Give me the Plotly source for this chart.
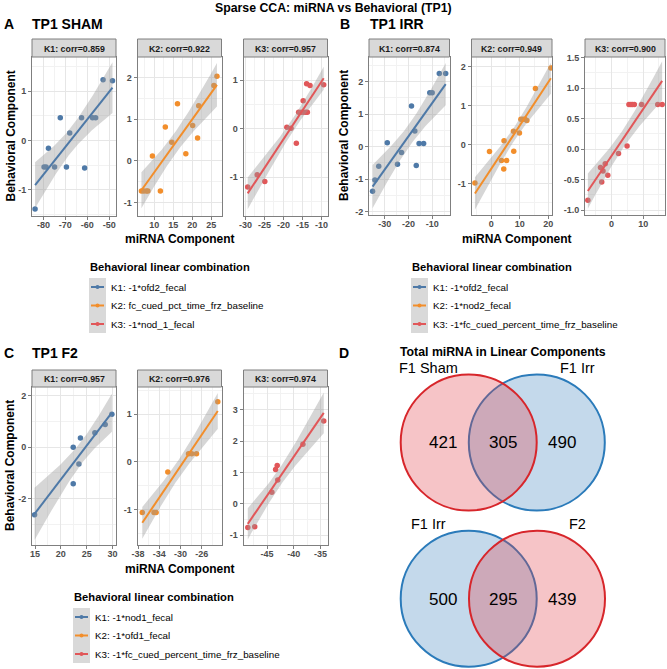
import math
import numpy as np
import plotly.graph_objects as go

# ---------------- data ----------------
sham_k1_x = [-83.8, -77.7, -79.7, -78.8, -74.9, -72.3, -69.5, -68.0, -62.6, -61.2, -57.6, -56.2, -52.8, -48.5]
sham_k1_y = [-1.39, -0.16, -0.54, -0.54, -0.54, 0.46, -0.54, 0.15, 0.46, -0.56, 0.46, 0.46, 1.23, 1.21]
sham_k2_x = [6.6, 7.2, 7.9, 8.3, 11.6, 9.5, 12.9, 14.6, 16.1, 18.3, 20.1, 21.4, 21.7, 25.7, 26.5]
sham_k2_y = [-0.72, -0.72, -0.72, -0.72, -0.72, 0.12, 0.81, 0.45, 1.37, 0.17, 0.85, 0.55, 1.32, 1.81, 2.03]
sham_k3_x = [-29.4, -26.9, -24.9, -19.1, -18.0, -16.6, -16.0, -15.3, -14.7, -14.1, -13.7, -14.8, -13.9, -13.0, -9.4]
sham_k3_y = [-1.20, -0.95, -1.09, 0.03, 0.01, -0.30, 0.34, 0.34, 0.34, 0.34, 0.34, 0.58, 0.93, 0.89, 0.91]

irr_k1_x = [-35.1, -34.1, -32.5, -28.9, -24.6, -22.9, -18.7, -17.3, -16.7, -15.5, -13.6, -11.0, -10.0, -7.0, -4.3]
irr_k1_y = [-1.37, -1.02, -0.60, 0.12, -0.54, -0.18, 1.25, 0.48, -0.58, 0.10, 0.10, 1.66, 1.66, 2.25, 2.25]
irr_k2_x = [-5.7, -0.6, 3.6, 5.4, 4.5, 4.4, 7.8, 7.9, 9.9, 10.4, 11.1, 11.8, 12.5, 15.5, 20.9]
irr_k2_y = [-0.99, -0.18, -0.41, -0.41, 0.10, -0.63, 0.34, -0.17, 0.30, 0.65, 0.65, 0.65, 0.62, 1.44, 1.97]
irr_k3_x = [-7.5, -3.5, -2.7, -2.0, -3.1, -1.2, 2.2, 4.9, 5.5, 6.1, 6.6, 7.2, 9.5, 14.6, 16.0]
irr_k3_y = [-0.84, -0.30, -0.36, -0.24, -0.54, -0.43, -0.07, 0.05, 0.73, 0.73, 0.73, 0.73, 0.73, 0.73, 0.73]

f2_k1_x = [14.9, 22.4, 23.8, 23.5, 22.4, 26.6, 28.6, 29.9]
f2_k1_y = [-2.64, 0.0, 0.36, -0.66, -1.43, 0.56, 0.89, 1.29]
f2_k2_x = [-37.2, -35.0, -34.6, -32.4, -28.5, -27.9, -27.0, -23.0]
f2_k2_y = [-1.06, -1.06, -1.06, -0.21, 0.17, 0.17, 0.17, 1.26]
f2_k3_x = [-48.6, -47.3, -44.1, -43.4, -43.1, -43.0, -38.3, -34.4]
f2_k3_y = [-0.75, -0.73, 0.37, 1.09, 1.22, 0.76, 1.90, 2.64]

sham_corr = ["0.859", "0.922", "0.957"]
irr_corr = ["0.874", "0.949", "0.900"]
f2_corr = ["0.957", "0.976", "0.974"]

sham_legend = ["K1: -1*ofd2_fecal", "K2: fc_cued_pct_time_frz_baseline", "K3: -1*nod_1_fecal"]
irr_legend = ["K1: -1*ofd2_fecal", "K2: -1*nod2_fecal", "K3: -1*fc_cued_percent_time_frz_baseline"]
f2_legend = ["K1: -1*nod1_fecal", "K2: -1*ofd1_fecal", "K3: -1*fc_cued_percent_time_frz_baseline"]

# x / y tick values per facet
sham_xticks = [[-80, -70, -60, -50], [10, 15, 20, 25], [-30, -25, -20, -15, -10]]
sham_yticks = [[-1, 0, 1], [-1, 0, 1, 2], [-1, 0, 1]]
irr_xticks = [[-30, -20, -10], [0, 10, 20], [0, 10]]
irr_yticks = [[-2, -1, 0, 1, 2], [-1, 0, 1, 2], [-1.0, -0.5, 0.0, 0.5, 1.0, 1.5]]
f2_xticks = [[15, 20, 25, 30], [-38, -34, -30, -26], [-45, -40, -35]]
f2_yticks = [[-2, 0, 2], [-1, 0, 1], [-1, 0, 1, 2, 3]]

venn1_sets = ["F1 Sham", "F1 Irr"]
venn1_counts = [421, 305, 490]
venn2_sets = ["F1 Irr", "F2"]
venn2_counts = [500, 295, 439]

# ---------------- geometry / style ----------------
W, H = 667, 669
def fx(p): return p / W
def fy(p): return 1 - p / H

COLORS = ["#4E79A7", "#F28E2B", "#E15759"]
FONT = "Arial, Liberation Sans, sans-serif"
BORDER = "#7f7f7f"

groups = [
    dict(data=[(sham_k1_x, sham_k1_y), (sham_k2_x, sham_k2_y), (sham_k3_x, sham_k3_y)],
         corr=sham_corr, xt=sham_xticks, yt=sham_yticks,
         xdom=[(32, 116), (137.5, 221.5), (243.5, 327.5)], ydom=(57, 216), strip=(39, 57),
         xr=[[-85.2, -46.9], [5.57, 27.7], [-30.5, -8.4]],
         yr=[[-1.53, 1.69], [-1.32, 2.49], [-1.80, 1.48]], yfmt=["{:g}"] * 3),
    dict(data=[(irr_k1_x, irr_k1_y), (irr_k2_x, irr_k2_y), (irr_k3_x, irr_k3_y)],
         corr=irr_corr, xt=irr_xticks, yt=irr_yticks,
         xdom=[(369, 449.5), (471.5, 552), (585, 665)], ydom=(57, 215), strip=(39, 57),
         xr=[[-36.6, -2.7], [-6.9, 21.3], [-8.4, 16.9]],
         yr=[[-2.1, 2.76], [-1.81, 2.25], [-1.08, 1.51]], yfmt=["{:g}", "{:g}", "{:.1f}"]),
    dict(data=[(f2_k1_x, f2_k1_y), (f2_k2_x, f2_k2_y), (f2_k3_x, f2_k3_y)],
         corr=f2_corr, xt=f2_xticks, yt=f2_yticks,
         xdom=[(32, 116), (137.5, 221.5), (243.5, 327.5)], ydom=(387, 545), strip=(370, 387),
         xr=[[14.4, 30.7], [-38.1, -22.3], [-49.4, -33.7]],
         yr=[[-3.82, 2.35], [-1.74, 1.57], [-1.31, 3.72]], yfmt=["{:g}"] * 3),
]


def t_ppf975(df):
    c = math.gamma((df + 1) / 2) / (math.sqrt(df * math.pi) * math.gamma(df / 2))
    def cdf(t):
        xs = np.linspace(0, t, 2001)
        return 0.5 + np.trapezoid(c * (1 + xs ** 2 / df) ** (-(df + 1) / 2), xs)
    lo, hi = 0.0, 20.0
    for _ in range(60):
        mid = (lo + hi) / 2
        if cdf(mid) < 0.975:
            lo = mid
        else:
            hi = mid
    return (lo + hi) / 2


def smooth(x, y):
    x = np.asarray(x, float); y = np.asarray(y, float); n = len(x)
    b1, b0 = np.polyfit(x, y, 1)
    xg = np.linspace(x.min(), x.max(), 80)
    yh = b0 + b1 * xg
    s = np.sqrt(((y - (b0 + b1 * x)) ** 2).sum() / (n - 2))
    sxx = ((x - x.mean()) ** 2).sum()
    se = s * np.sqrt(1 / n + (xg - x.mean()) ** 2 / sxx)
    t = t_ppf975(n - 2)
    return xg, yh, yh - t * se, yh + t * se


fig = go.Figure()
layout = {}
shapes = []
annots = []

def ann(text, x, y, size, bold=False, color="#000000", xanchor="center", yanchor="middle", angle=0):
    annots.append(dict(text=text, x=fx(x), y=fy(y), xref="paper", yref="paper", showarrow=False,
                       xanchor=xanchor, yanchor=yanchor, textangle=angle, borderpad=0,
                       font=dict(family=FONT, size=size, color=color, weight="bold" if bold else "normal")))

idx = 0
for g in groups:
    for k in range(3):
        idx += 1
        suf = "" if idx == 1 else str(idx)
        x, y = g["data"][k]
        col = COLORS[k]
        fig.add_trace(go.Scatter(x=x, y=y, mode="markers", marker=dict(color=col, size=5.5),
                                 xaxis="x" + suf, yaxis="y" + suf, showlegend=False))
        xg, yh, lo, hi = smooth(x, y)
        fig.add_trace(go.Scatter(x=np.concatenate([xg, xg[::-1]]), y=np.concatenate([hi, lo[::-1]]),
                                 fill="toself", fillcolor="rgba(153,153,153,0.4)", line=dict(width=0),
                                 mode="lines", hoverinfo="skip", xaxis="x" + suf, yaxis="y" + suf,
                                 showlegend=False))
        fig.add_trace(go.Scatter(x=xg, y=yh, mode="lines", line=dict(color=col, width=2),
                                 xaxis="x" + suf, yaxis="y" + suf, showlegend=False))
        x0, x1 = g["xdom"][k]
        ytop, ybot = g["ydom"]
        xt = g["xt"][k]; yt = g["yt"][k]
        xstep = xt[1] - xt[0]; ystep = yt[1] - yt[0]
        yfmt = g["yfmt"][k]
        common = dict(showline=True, linecolor=BORDER, linewidth=1, mirror=True,
                      ticks="outside", ticklen=3, tickcolor=BORDER, tickwidth=1,
                      gridcolor="#e6e6e6", gridwidth=0.8, zeroline=False, automargin=False,
                      tickfont=dict(family=FONT, size=9, color="#4d4d4d", weight="bold"),
                      tickmode="array")
        layout["xaxis" + suf] = dict(common, domain=[fx(x0), fx(x1)], anchor="y" + suf,
                                     range=g["xr"][k], tickvals=xt, ticktext=["{:g}".format(v) for v in xt],
                                     ticklabelstandoff=-3,
                                     minor=dict(showgrid=True, gridcolor="#f2f2f2", gridwidth=0.6,
                                                tickmode="linear", tick0=xt[0], dtick=xstep / 2, ticklen=0))
        layout["yaxis" + suf] = dict(common, domain=[fy(ybot), fy(ytop)], anchor="x" + suf,
                                     range=g["yr"][k], tickvals=yt, ticktext=[yfmt.format(v) for v in yt],
                                     minor=dict(showgrid=True, gridcolor="#f2f2f2", gridwidth=0.6,
                                                tickmode="linear", tick0=yt[0], dtick=ystep / 2, ticklen=0))
        s0, s1 = g["strip"]
        shapes.append(dict(type="rect", xref="paper", yref="paper", x0=fx(x0), x1=fx(x1), y0=fy(s1), y1=fy(s0),
                           fillcolor="#d9d9d9", line=dict(color=BORDER, width=1), layer="above"))
        ann("K%d: corr=%s" % (k + 1, g["corr"][k]), (x0 + x1) / 2, (s0 + s1) / 2 + 0.5, 8.8, bold=True, color="#1a1a1a")

# titles
ann("Sparse CCA: miRNA vs Behavioral (TP1)", 333, 8, 12.3, bold=True)
ann("A", 3, 24, 14, bold=True, xanchor="left")
ann("TP1 SHAM", 31, 24, 14, bold=True, xanchor="left")
ann("B", 339, 24, 14, bold=True, xanchor="left")
ann("TP1 IRR", 369, 24, 14, bold=True, xanchor="left")
ann("C", 3, 353, 14, bold=True, xanchor="left")
ann("TP1 F2", 31, 353, 14, bold=True, xanchor="left")
ann("D", 338, 353, 14, bold=True, xanchor="left")

# axis titles
ann("Behavioral Component", 10, 136.5, 12, bold=True, angle=-90)
ann("Behavioral Component", 344, 136, 12, bold=True, angle=-90)
ann("Behavioral Component", 10, 466, 12, bold=True, angle=-90)
ann("miRNA Component", 180, 238.5, 12, bold=True)
ann("miRNA Component", 517, 238.5, 12, bold=True)
ann("miRNA Component", 180, 568.5, 12, bold=True)

# legends
def legend(x0, ytitle, ys, labels):
    ann("Behavioral linear combination", x0, ytitle, 11.2, bold=True, xanchor="left")
    shapes.append(dict(type="rect", xref="paper", yref="paper", x0=fx(x0), x1=fx(x0 + 17),
                       y0=fy(ys[-1] + 9), y1=fy(ys[0] - 9), fillcolor="#d9d9d9", line=dict(width=0)))
    for i, (yy, lab) in enumerate(zip(ys, labels)):
        shapes.append(dict(type="line", xref="paper", yref="paper", x0=fx(x0 + 2), x1=fx(x0 + 15),
                           y0=fy(yy), y1=fy(yy), line=dict(color=COLORS[i], width=2)))
        shapes.append(dict(type="circle", xref="paper", yref="paper", x0=fx(x0 + 6.5), x1=fx(x0 + 10.5),
                           y0=fy(yy + 2), y1=fy(yy - 2), fillcolor=COLORS[i], line=dict(width=0)))
        ann(lab, x0 + 21, yy, 9.8, color="#000000", xanchor="left")

legend(89, 267, [287, 305.5, 324], sham_legend)
legend(411, 267, [287, 305.5, 324], irr_legend)
legend(73, 597, [617, 635.5, 654], f2_legend)

# Venn diagrams
RED_E, BLUE_E = "#D7262B", "#2B7BBA"
RED_F, BLUE_F = "rgba(224,60,70,0.3)", "rgba(60,130,190,0.3)"
ann("Total miRNA in Linear Components", 503, 352, 12.3, bold=True)

def circle(cx, cy, r, fill, edge):
    shapes.append(dict(type="circle", xref="paper", yref="paper", x0=fx(cx - r), x1=fx(cx + r),
                       y0=fy(cy + r), y1=fy(cy - r), fillcolor=fill, line=dict(color=edge, width=2)))

r = 68
circle(536.8, 442.5, r, BLUE_F, BLUE_E)
circle(468.7, 442.5, r, RED_F, RED_E)
ann(venn1_sets[0], 428, 368, 14.5)
ann(venn1_sets[1], 577.5, 368, 14.5)
for xx, c in zip([443, 502.7, 561.7], venn1_counts):
    ann(str(c), xx, 443, 17)

circle(468.7, 598.7, r, BLUE_F, BLUE_E)
circle(537, 598.7, r, RED_F, RED_E)
ann(venn2_sets[0], 428, 524, 14.5)
ann(venn2_sets[1], 577.5, 524, 14.5)
for xx, c in zip([443, 502.7, 561.7], venn2_counts):
    ann(str(c), xx, 599.3, 17)

fig.update_layout(**layout)
fig.update_layout(width=W, height=H, margin=dict(l=0, r=0, t=0, b=0, autoexpand=False),
                  paper_bgcolor="white", plot_bgcolor="white",
                  shapes=shapes, annotations=annots, showlegend=False,
                  font=dict(family=FONT))
fig.write_html("out.html", config={"displayModeBar": False},
               post_script="document.body.style.margin='0';document.body.style.overflow='hidden';")
